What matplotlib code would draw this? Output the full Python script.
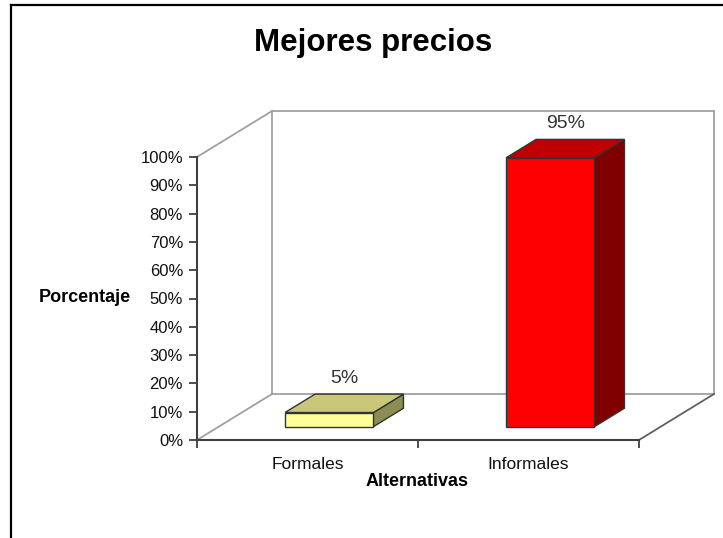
import matplotlib
matplotlib.use("Agg")
import matplotlib.pyplot as plt
from matplotlib.patches import Polygon
from matplotlib.lines import Line2D

plt.rcParams['font.family'] = ['Liberation Sans', 'DejaVu Sans']

# ---- data ----
title = "Mejores precios"
categories = ["Formales", "Informales"]
values = [5, 95]
value_labels = ["5%", "95%"]
y_ticks = [0, 10, 20, 30, 40, 50, 60, 70, 80, 90, 100]
y_tick_labels = ["0%", "10%", "20%", "30%", "40%", "50%", "60%", "70%", "80%", "90%", "100%"]
x_title = "Alternativas"
y_title = "Porcentaje"

front_colors = ["#FFFF99", "#FF0000"]
top_colors = ["#C8C878", "#C00000"]
side_colors = ["#8C8C55", "#800000"]

W, H = 723, 538
fig = plt.figure(figsize=(W / 100, H / 100), dpi=100)
fig.patch.set_facecolor("white")

# frame lines (top and left border of the picture)
fig.add_artist(Line2D([11 / W, 1.0], [1 - 5 / H, 1 - 5 / H], color="black", lw=1.6,
                      transform=fig.transFigure))
fig.add_artist(Line2D([11 / W, 11 / W], [0.0, 1 - 5 / H], color="black", lw=1.6,
                      transform=fig.transFigure))

ax_l, ax_r, ax_t, ax_b = 197, 639, 157, 440
ax = fig.add_axes([ax_l / W, 1 - ax_b / H, (ax_r - ax_l) / W, (ax_b - ax_t) / H])
n = len(categories)
ax.set_xlim(0, n)
ax.set_ylim(0, 100)
ax.patch.set_alpha(0)

# depth of the 3D box in data units
px_x = (ax_r - ax_l) / n
px_y = (ax_b - ax_t) / 100.0
DX = 75 / px_x
DY = 46 / px_y

wall_c = "#A0A0A0"
# back wall
ax.add_patch(Polygon([(DX, DY), (n + DX, DY), (n + DX, 100 + DY), (DX, 100 + DY)],
                     closed=True, fill=False, edgecolor=wall_c, lw=1.3, clip_on=False, zorder=1))
# side wall / floor edges
for (x0, y0) in [(0, 0), (0, 100), (n, 0)]:
    ax.add_line(Line2D([x0, x0 + DX], [y0, y0 + DY], color=wall_c if x0 == 0 else "#606060",
                       lw=1.3, clip_on=False, zorder=1))

# bars
bw = 0.4
d0 = 0.29
bd = 0.40
for i, v in enumerate(values):
    xl = i + 0.5 - bw / 2 + d0 * DX
    xr = xl + bw
    yb = d0 * DY
    yt = yb + v
    ox, oy = bd * DX, bd * DY
    ec = "#333333"
    ax.add_patch(Polygon([(xr, yb), (xr + ox, yb + oy), (xr + ox, yt + oy), (xr, yt)],
                         closed=True, facecolor=side_colors[i], edgecolor=ec, lw=1.0,
                         clip_on=False, zorder=3))
    ax.add_patch(Polygon([(xl, yt), (xr, yt), (xr + ox, yt + oy), (xl + ox, yt + oy)],
                         closed=True, facecolor=top_colors[i], edgecolor=ec, lw=1.0,
                         clip_on=False, zorder=3))
    ax.add_patch(Polygon([(xl, yb), (xr, yb), (xr, yt), (xl, yt)],
                         closed=True, facecolor=front_colors[i], edgecolor=ec, lw=1.0,
                         clip_on=False, zorder=4))
    ax.text((xl + xr) / 2 + ox / 2, yt + oy + 2.5, value_labels[i], ha="center", va="bottom",
            fontsize=14, color="#333333", zorder=5)

# axes styling
for s in ["top", "right"]:
    ax.spines[s].set_visible(False)
for s in ["left", "bottom"]:
    ax.spines[s].set_color("#404040")
    ax.spines[s].set_linewidth(1.5)
ax.set_yticks(y_ticks)
ax.set_yticklabels(y_tick_labels)
ax.tick_params(axis="y", direction="out", length=6, width=1.3, color="#404040",
               labelsize=12, pad=4, labelcolor="#111111")
ax.set_xticks(list(range(n + 1)))
ax.set_xticklabels([""] * (n + 1))
ax.set_xticks([i + 0.5 for i in range(n)], minor=True)
ax.set_xticklabels(categories, minor=True)
ax.tick_params(axis="x", which="major", direction="out", length=6, width=1.3, color="#404040")
ax.tick_params(axis="x", which="minor", length=0, labelsize=12.5, pad=12, labelcolor="#111111")

fig.text(373 / W, 1 - 43 / H, title, ha="center", va="center", fontsize=22.5, fontweight="bold",
         color="black")
fig.text(131 / W, 1 - 298 / H, y_title, ha="right", va="center", fontsize=13, fontweight="bold",
         color="black")
fig.text(417 / W, 1 - 482 / H, x_title, ha="center", va="center", fontsize=13, fontweight="bold",
         color="black")

fig.savefig("out.png", dpi=100)
